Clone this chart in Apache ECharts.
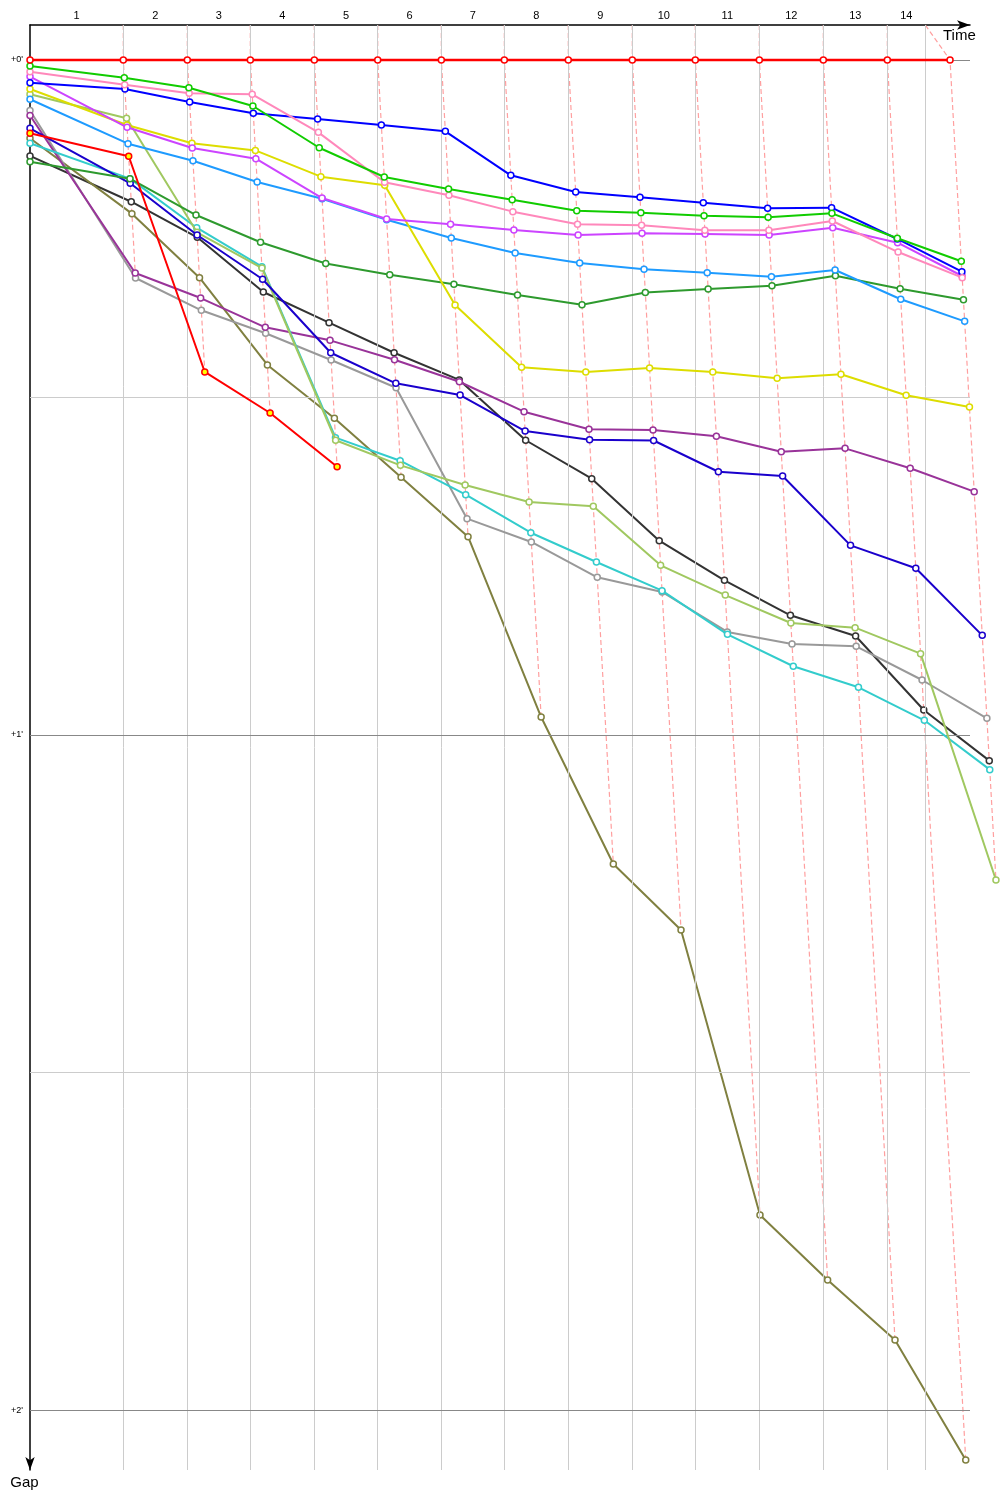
<!DOCTYPE html>
<html>
<head>
<meta charset="utf-8">
<title>Gap chart</title>
<script src="https://cdn.jsdelivr.net/npm/echarts@6/dist/echarts.min.js"></script>
<style>
  html, body { margin: 0; padding: 0; background: #fff; }
  #main { width: 1000px; height: 1500px; }
</style>
</head>
<body>
<div id="main"></div>
<script>
// leader crossing times (s) at the end of laps 1..14
const leaderLaps = [148.1, 249.7, 349.7, 451.3, 551.9, 652.9, 752.9, 854.4, 956.0, 1056.0, 1157.6, 1259.2, 1360.8, 1460.3];
// end of race time (the last vertical line)
const timeLimit = 1421.1;
const lapLabels = ['1', '2', '3', '4', '5', '6', '7', '8', '9', '10', '11', '12', '13', '14'];
const gapTicks = [0, 30, 60, 90, 120];
const gapTickLabels = ["+0'", '', "+1'", '', "+2'"];

// gaps to leader (s): index 0 = start, then lap 1, 2 ...
const gapRed = [0, 0, 0, 0, 0, 0, 0, 0, 0, 0, 0, 0, 0, 0, 0];
const gapGreen = [0.53, 1.57, 2.46, 4.09, 7.80, 10.40, 11.47, 12.42, 13.40, 13.57, 13.84, 13.98, 13.63, 15.85, 17.89];
const gapPink = [1.04, 2.20, 2.96, 3.05, 6.43, 10.87, 12.03, 13.48, 14.60, 14.69, 15.14, 15.14, 14.31, 17.07, 19.35];
const gapBlue = [2.02, 2.58, 3.73, 4.74, 5.24, 5.78, 6.34, 10.25, 11.73, 12.20, 12.68, 13.18, 13.13, 15.91, 18.82];
const gapViolet = [1.47, 5.98, 7.82, 8.77, 12.27, 14.13, 14.60, 15.11, 15.56, 15.40, 15.47, 15.56, 14.91, 16.24, 19.20];
const gapYellow = [2.58, 5.78, 7.40, 8.04, 10.37, 11.14, 21.78, 27.32, 27.73, 27.38, 27.73, 28.29, 27.94, 29.80, 30.84];
const gapLime = [3.05, 5.18, 15.32, 18.49, 33.80, 36.03, 37.78, 39.29, 39.67, 44.92, 47.56, 50.04, 50.46, 52.77, 72.89];
const gapSky = [3.49, 7.44, 8.95, 10.84, 12.33, 14.20, 15.82, 17.16, 18.04, 18.60, 18.91, 19.26, 18.67, 21.27, 23.23];
const gapRed2 = [6.52, 8.56, 27.73, 31.38, 36.15];
const gapForest = [9.04, 10.55, 13.78, 16.20, 18.09, 19.08, 19.94, 20.89, 21.75, 20.67, 20.36, 20.06, 19.17, 20.33, 21.31];
const gapCyan = [7.40, 10.55, 14.91, 18.37, 33.57, 35.62, 38.64, 42.02, 44.62, 47.17, 51.05, 53.89, 55.76, 58.69, 63.08];
const gapNavy = [6.07, 10.96, 15.56, 19.49, 26.02, 28.74, 29.78, 32.98, 33.75, 33.82, 36.60, 36.98, 43.14, 45.18, 51.14];
const gapBlack = [8.53, 12.60, 15.76, 20.62, 23.35, 26.02, 28.44, 33.80, 37.22, 42.73, 46.25, 49.36, 51.20, 57.78, 62.28];
const gapPurple = [4.93, 18.93, 21.16, 23.76, 24.92, 26.64, 28.60, 31.26, 32.83, 32.89, 33.45, 34.82, 34.52, 36.29, 38.37];
const gapGrey = [4.49, 19.38, 22.25, 24.29, 26.67, 29.13, 40.77, 42.84, 45.98, 47.29, 50.84, 51.91, 52.12, 55.11, 58.52];
const gapOlive = [6.96, 13.66, 19.35, 27.11, 31.85, 37.09, 42.37, 58.40, 71.47, 77.33, 102.67, 108.44, 113.78, 124.44];

const cars = [
  { name: 'Black', color: '#333333', gaps: gapBlack },
  { name: 'Olive', color: '#808040', gaps: gapOlive },
  { name: 'Grey', color: '#999999', gaps: gapGrey },
  { name: 'Purple', color: '#993399', gaps: gapPurple },
  { name: 'Cyan', color: '#33cccc', gaps: gapCyan },
  { name: 'Lime', color: '#a0c860', gaps: gapLime },
  { name: 'Navy', color: '#1a00cc', gaps: gapNavy },
  { name: 'Forest', color: '#2e9a2e', gaps: gapForest },
  // second red car: markers filled yellow
  { name: 'Red 2', color: '#ff0000', fill: '#ffff00', gaps: gapRed2 },
  { name: 'Sky', color: '#1e9bff', gaps: gapSky },
  { name: 'Yellow', color: '#dddd00', gaps: gapYellow },
  { name: 'Violet', color: '#cc44ff', gaps: gapViolet },
  { name: 'Blue', color: '#0000ff', gaps: gapBlue },
  { name: 'Pink', color: '#ff88bb', gaps: gapPink },
  { name: 'Green', color: '#11cc00', gaps: gapGreen },
  { name: 'Red', color: '#ff0000', gaps: gapRed }
];

const Y_TOP = -3.11;    // gap value at the time axis
const Y_BOTTOM = 125.33;
const X_MAX = 1492;     // end of the drawn time axis
const PLOT_W = 940;
// the data grid runs on to the page edge with the same scale
const DATA_W = 970;
const X_MAX_DATA = X_MAX * DATA_W / PLOT_W;

// vertical lines: end of laps 1..13 and the time limit
const lapLines = leaderLaps.slice(0, 13).concat([timeLimit]);
const bounds = [0].concat(lapLines);
const labelPos = lapLabels.map((s, i) => (bounds[i] + bounds[i + 1]) / 2);

// a car crosses the line at leader time + gap
function crossing(lap, gap) {
  return lap === 0 ? 0 : leaderLaps[lap - 1] + gap;
}

const series = [];

// grid lines
series.push({
  type: 'line',
  data: [],
  silent: true,
  xAxisIndex: 0,
  yAxisIndex: 0,
  z: 1,
  markLine: {
    silent: true,
    symbol: ['none', 'none'],
    animation: false,
    data: lapLines.map(v => ({
      xAxis: v,
      label: { show: false },
      lineStyle: { color: '#cccccc', width: 1, type: 'solid' }
    })).concat(gapTicks.map((v, i) => ({
      yAxis: v,
      label: {
        show: gapTickLabels[i] !== '',
        position: 'start',
        formatter: gapTickLabels[i],
        fontSize: 9,
        color: '#000',
        distance: 7
      },
      lineStyle: { color: i % 2 === 0 ? '#888888' : '#cccccc', width: 1, type: 'solid' }
    })))
  }
});

// dashed line per lap joining the crossings
for (let k = 1; k <= leaderLaps.length; k++) {
  const pts = [];
  cars.forEach(c => {
    if (c.gaps.length > k) pts.push([crossing(k, c.gaps[k]), c.gaps[k]]);
  });
  pts.sort((a, b) => a[1] - b[1]);
  series.push({
    type: 'line',
    name: 'lap ' + k,
    xAxisIndex: 1,
    yAxisIndex: 1,
    data: [[lapLines[k - 1], Y_TOP]].concat(pts),
    symbol: 'none',
    silent: true,
    z: 2,
    lineStyle: { color: '#ff9f9f', width: 1.2, type: [5, 3] }
  });
}

// one line per car
cars.forEach((c, ci) => {
  series.push({
    type: 'line',
    name: c.name,
    xAxisIndex: 1,
    yAxisIndex: 1,
    data: c.gaps.map((g, i) => [crossing(i, g), g]),
    symbol: 'circle',
    symbolSize: 6,
    clip: false,
    z: 3 + ci,
    lineStyle: { color: c.color, width: c.name === 'Red' ? 2.5 : 2 },
    itemStyle: { color: c.fill || '#ffffff', borderColor: c.color, borderWidth: 1.5 }
  });
});

const chart = echarts.init(document.getElementById('main'));
chart.setOption({
  animation: false,
  backgroundColor: '#ffffff',
  textStyle: { fontFamily: 'Liberation Sans' },
  grid: [
    { left: 30, top: 25, width: PLOT_W, height: 1445 },
    { left: 30, top: 25, width: DATA_W, height: 1445 }
  ],
  xAxis: [{
    type: 'value',
    gridIndex: 0,
    position: 'top',
    min: 0,
    max: X_MAX,
    name: 'Time',
    nameLocation: 'end',
    nameGap: -27,
    nameTextStyle: { fontSize: 15, color: '#000', align: 'left', verticalAlign: 'top', padding: [3, 0, 0, 0] },
    axisLine: {
      show: true,
      onZero: false,
      symbol: ['none', 'arrow'],
      symbolSize: [7, 13],
      lineStyle: { color: '#000', width: 1.5 }
    },
    axisTick: { show: false },
    splitLine: { show: false },
    axisLabel: {
      customValues: labelPos,
      formatter: v => {
        let best = 0;
        labelPos.forEach((p, i) => { if (Math.abs(p - v) < Math.abs(labelPos[best] - v)) best = i; });
        return lapLabels[best];
      },
      margin: 4,
      fontSize: 11,
      color: '#000'
    }
  }, {
    type: 'value',
    gridIndex: 1,
    position: 'top',
    min: 0,
    max: X_MAX_DATA,
    show: false
  }],
  yAxis: [{
    type: 'value',
    gridIndex: 0,
    inverse: true,
    min: Y_TOP,
    max: Y_BOTTOM,
    name: 'Gap',
    nameLocation: 'end',
    nameGap: 5,
    nameTextStyle: { fontSize: 15, color: '#000', align: 'center', verticalAlign: 'top', padding: [0, 11, 0, 0] },
    axisLine: {
      show: true,
      onZero: false,
      symbol: ['arrow', 'none'],
      symbolSize: [7, 13],
      lineStyle: { color: '#000', width: 1.5 }
    },
    axisTick: { show: false },
    axisLabel: { show: false },
    splitLine: { show: false }
  }, {
    type: 'value',
    gridIndex: 1,
    inverse: true,
    min: Y_TOP,
    max: Y_BOTTOM,
    show: false
  }],
  series: series
});
</script>
</body>
</html>
